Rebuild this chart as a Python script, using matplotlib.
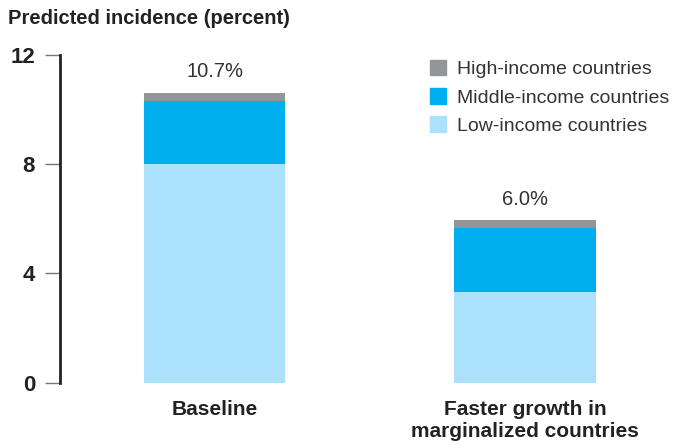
import matplotlib
matplotlib.use("Agg")
import matplotlib.pyplot as plt
from matplotlib.patches import Patch
from matplotlib import font_manager

categories = ["Baseline", "Faster growth in\nmarginalized countries"]
low_income = [8.0, 3.33]
middle_income = [2.31, 2.34]
high_income = [0.30, 0.28]
total_labels = ["10.7%", "6.0%"]
series_names = ["High-income countries", "Middle-income countries", "Low-income countries"]
yticks = [0, 4, 8, 12]

colors = {"low": "#abe1fa", "mid": "#00aeef", "high": "#939598"}

names = {f.name for f in font_manager.fontManager.ttflist}
plain = "Liberation Sans" if "Liberation Sans" in names else "DejaVu Sans"
cond = plain

fig = plt.figure(figsize=(6.74, 4.45), dpi=100)
ax = fig.add_axes([60/674, (445-382.7)/445, 614/674, 328/445])

x = [0, 1]
w = 0.455
ax.bar(x, low_income, width=w, color=colors["low"])
ax.bar(x, middle_income, width=w, bottom=low_income, color=colors["mid"])
b2 = [l + m for l, m in zip(low_income, middle_income)]
ax.bar(x, high_income, width=w, bottom=b2, color=colors["high"])
tops = [b + h for b, h in zip(b2, high_income)]
for xi, t, lab in zip(x, tops, total_labels):
    ax.text(xi, t + 0.42, lab, ha="center", va="bottom", fontsize=14.5,
            family=plain, color="#333333")

ax.set_xlim(-0.498, 1.48)
ax.set_ylim(0, 12)
ax.set_yticks(yticks)
ax.set_yticklabels([str(v) for v in yticks], fontsize=16, fontweight="bold",
                   family=cond, color="#222222")
ax.tick_params(axis="y", length=11, width=1.0, color="#777777", pad=7)
ax.set_xticks([])
for s in ["top", "right", "bottom"]:
    ax.spines[s].set_visible(False)
ax.spines["left"].set_linewidth(2.0)
ax.spines["left"].set_color("#222222")

for xi, c in zip(x, categories):
    ax.text(xi, -0.62, c, ha="center", va="top", fontsize=15, fontweight="bold",
            family=cond, color="#222222", linespacing=1.25)

fig.text(8/674, 1 - 18/445, "Predicted incidence (percent)", ha="left", va="center",
         fontsize=14.5, fontweight="bold", family=cond, color="#222222")

handles = [Patch(color=colors["high"]), Patch(color=colors["mid"]), Patch(color=colors["low"])]
fig.legend(handles, series_names, loc="upper left", bbox_to_anchor=(424/674, 1 - 54/445),
           frameon=False, handlelength=0.85, handleheight=0.85,
           handletextpad=0.55, labelspacing=0.5, borderaxespad=0, borderpad=0.3,
           prop={"family": plain, "size": 14})
for t in fig.legends[0].get_texts():
    t.set_color("#333333")

fig.savefig("out.png", dpi=100)
